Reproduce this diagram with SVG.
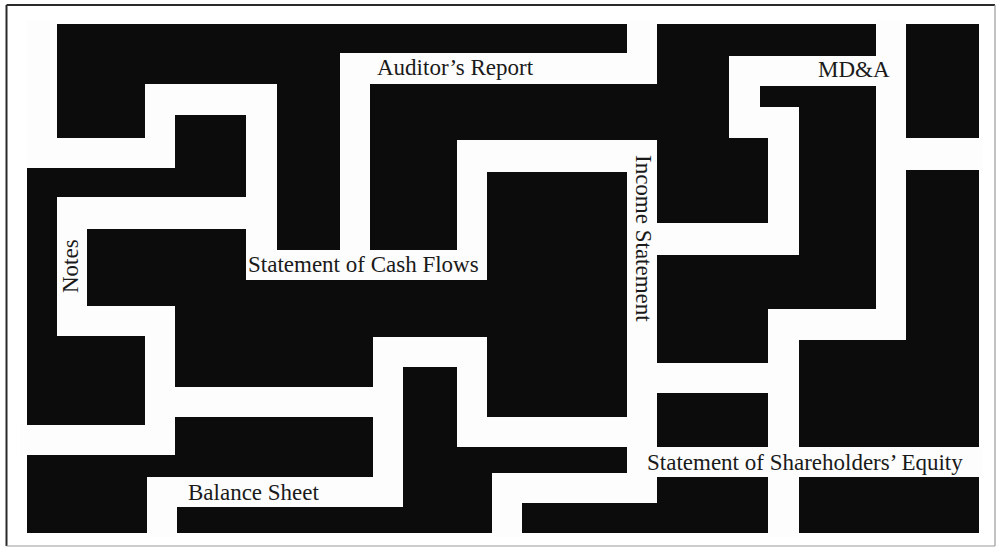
<svg xmlns="http://www.w3.org/2000/svg" width="996" height="548" viewBox="0 0 996 548">
<style>
.bg{fill:#ffffff}
.frame-dark{stroke:#2a2a2a;stroke-width:2}
.frame-light{stroke:#9a9a9a;stroke-width:1.2}
.wall{fill:#0c0c0c}
.path{fill:#fdfdfd}
.lbl{font-family:"Liberation Serif","Times New Roman",serif;font-size:23px;fill:#1a1a1a}
</style>
<rect class="bg" x="0" y="0" width="996" height="548"/>
<g id="frame">
<line class="frame-dark" x1="6.5" y1="5" x2="995" y2="5"/>
<line class="frame-dark" x1="6.5" y1="5" x2="6.5" y2="546"/>
<line class="frame-light" x1="995" y1="5" x2="995" y2="546"/>
<line class="frame-light" x1="6.5" y1="546" x2="995" y2="546"/>
</g>
<g id="maze">
<rect class="wall" x="27" y="24" width="952" height="509"/>
<g id="corridors">
<rect class="path" x="27" y="20" width="30" height="148"/>
<rect class="path" x="27" y="138" width="148" height="30"/>
<rect class="path" x="145" y="84" width="30" height="84"/>
<rect class="path" x="145" y="84" width="132" height="31"/>
<rect class="path" x="246" y="84" width="31" height="196"/>
<rect class="path" x="57" y="197" width="190" height="32"/>
<rect class="path" x="57" y="197" width="30" height="139"/>
<rect class="path" x="57" y="306" width="118" height="30"/>
<rect class="path" x="145" y="306" width="30" height="149"/>
<rect class="path" x="20" y="425" width="155" height="30"/>
<rect class="path" x="145" y="387" width="258" height="30"/>
<rect class="path" x="373" y="337" width="30" height="170"/>
<rect class="path" x="373" y="337" width="114" height="30"/>
<rect class="path" x="457" y="337" width="30" height="110"/>
<rect class="path" x="457" y="417" width="200" height="30"/>
<rect class="path" x="147" y="477" width="256" height="30"/>
<rect class="path" x="147" y="477" width="30" height="60"/>
<rect class="path" x="246" y="250" width="241" height="30"/>
<rect class="path" x="340" y="53" width="30" height="227"/>
<rect class="path" x="340" y="53" width="317" height="31"/>
<rect class="path" x="627" y="20" width="30" height="64"/>
<rect class="path" x="457" y="140" width="30" height="140"/>
<rect class="path" x="457" y="140" width="200" height="32"/>
<rect class="path" x="627" y="140" width="30" height="363"/>
<rect class="path" x="492" y="473" width="165" height="30"/>
<rect class="path" x="492" y="473" width="30" height="64"/>
<rect class="path" x="627" y="447" width="356" height="30"/>
<rect class="path" x="657" y="223" width="142" height="32"/>
<rect class="path" x="768" y="107" width="31" height="148"/>
<rect class="path" x="729" y="107" width="70" height="31"/>
<rect class="path" x="729" y="56" width="31" height="82"/>
<rect class="path" x="729" y="56" width="177" height="30"/>
<rect class="path" x="876" y="20" width="30" height="320"/>
<rect class="path" x="906" y="138" width="77" height="32"/>
<rect class="path" x="768" y="309" width="138" height="31"/>
<rect class="path" x="768" y="309" width="31" height="228"/>
<rect class="path" x="657" y="363" width="142" height="30"/>
</g>
</g>
<g id="labels">
<g id="auditors-report"><text class="lbl" x="377" y="75">Auditor’s Report</text></g>
<g id="mda"><text class="lbl" x="818" y="77">MD&amp;A</text></g>
<g id="cash-flows"><text class="lbl" x="248" y="272">Statement of Cash Flows</text></g>
<g id="notes"><text class="lbl" transform="translate(78,293) rotate(-90)">Notes</text></g>
<g id="income-statement"><text class="lbl" transform="translate(636,155) rotate(90)">Income Statement</text></g>
<g id="shareholders-equity"><text class="lbl" x="647" y="470">Statement of Shareholders’ Equity</text></g>
<g id="balance-sheet"><text class="lbl" x="188" y="500">Balance Sheet</text></g>
</g>
</svg>
